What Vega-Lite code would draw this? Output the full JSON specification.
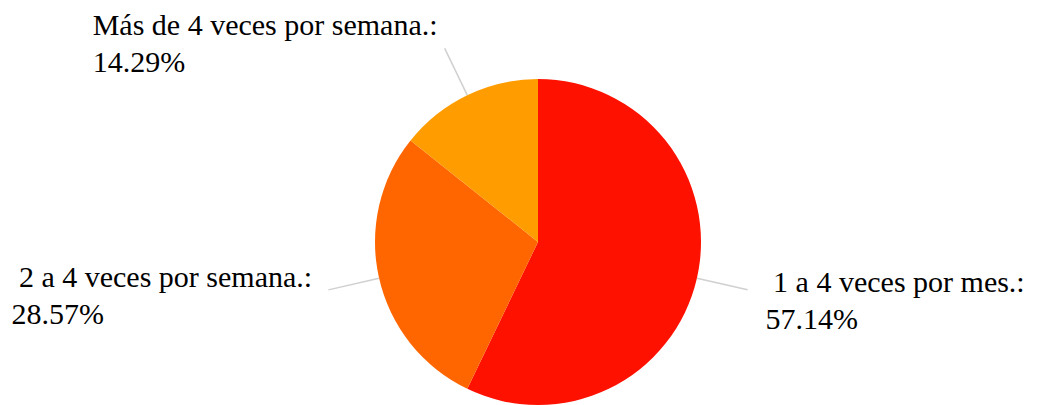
{
  "$schema": "https://vega.github.io/schema/vega-lite/v6.json",
  "width": 1036,
  "height": 326,
  "autosize": {"type": "none"},
  "padding": {"left": 20, "top": 79, "right": 0, "bottom": 0},
  "background": "white",
  "config": {"view": {"stroke": null}},
  "data": {
    "values": [
      {"categoria": "1 a 4 veces por mes.", "porcentaje": 57.14, "etiqueta": "\u200b\u00a01 a 4 veces por mes.:\n57.14%"},
      {"categoria": "2 a 4 veces por semana.", "porcentaje": 28.57, "etiqueta": "\u200b\u00a02 a 4 veces por semana.:\n28.57%"},
      {"categoria": "Más de 4 veces por semana.", "porcentaje": 14.29, "etiqueta": "Más de 4 veces por semana.:\n14.29%"}
    ]
  },
  "layer": [
    {
      "mark": {"type": "arc", "outerRadius": 163},
      "encoding": {
        "theta": {"field": "porcentaje", "type": "quantitative", "stack": true},
        "order": {"field": "porcentaje", "sort": "descending"},
        "color": {
          "field": "categoria",
          "type": "nominal",
          "scale": {
            "domain": ["1 a 4 veces por mes.", "2 a 4 veces por semana.", "Más de 4 veces por semana."],
            "range": ["#FF1100", "#FF6600", "#FF9C00"]
          },
          "legend": null
        }
      }
    },
    {
      "transform": [
        {"stack": "porcentaje", "groupby": [], "sort": [{"field": "porcentaje", "order": "descending"}], "as": ["s0", "s1"]}
      ],
      "mark": {
        "type": "arc",
        "theta": {"expr": "PI*(datum.s0+datum.s1)/100"},
        "theta2": {"expr": "PI*(datum.s0+datum.s1)/100"},
        "innerRadius": 163,
        "outerRadius": 215,
        "filled": false,
        "color": "#D0D0D0",
        "strokeWidth": 1.5
      },
      "encoding": {}
    },
    {
      "mark": {"type": "text", "radius": 215, "align": "left", "baseline": "alphabetic", "font": "'Liberation Serif', 'DejaVu Serif', serif", "fontSize": 30, "lineBreak": "\n", "lineHeight": 37, "color": "#000000", "dx": 18, "dy": 2},
      "encoding": {
        "theta": {"field": "porcentaje", "type": "quantitative", "stack": true},
        "order": {"field": "porcentaje", "sort": "descending"},
        "text": {"condition": {"test": "datum.categoria === '1 a 4 veces por mes.'", "field": "etiqueta"}, "value": ""}
      }
    },
    {
      "mark": {"type": "text", "radius": 215, "align": "left", "baseline": "alphabetic", "font": "'Liberation Serif', 'DejaVu Serif', serif", "fontSize": 30, "lineBreak": "\n", "lineHeight": 37, "color": "#000000", "dx": -317, "dy": -3},
      "encoding": {
        "theta": {"field": "porcentaje", "type": "quantitative", "stack": true},
        "order": {"field": "porcentaje", "sort": "descending"},
        "text": {"condition": {"test": "datum.categoria === '2 a 4 veces por semana.'", "field": "etiqueta"}, "value": ""}
      }
    },
    {
      "mark": {"type": "text", "radius": 215, "align": "left", "baseline": "alphabetic", "font": "'Liberation Serif', 'DejaVu Serif', serif", "fontSize": 30, "lineBreak": "\n", "lineHeight": 37, "color": "#000000", "dx": -352, "dy": -13},
      "encoding": {
        "theta": {"field": "porcentaje", "type": "quantitative", "stack": true},
        "order": {"field": "porcentaje", "sort": "descending"},
        "text": {"condition": {"test": "datum.categoria === 'Más de 4 veces por semana.'", "field": "etiqueta"}, "value": ""}
      }
    }
  ]
}
